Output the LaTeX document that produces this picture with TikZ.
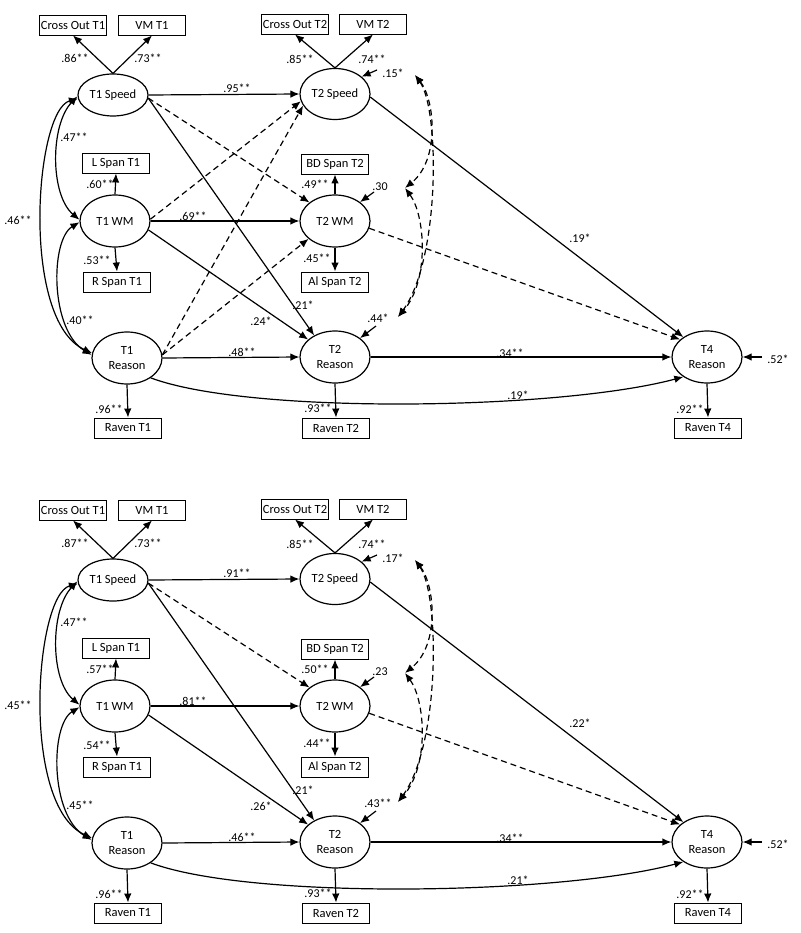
\documentclass[tikz,border=0pt]{standalone}
\usepackage{fontspec}
\setmainfont{Carlito}
\usetikzlibrary{arrows.meta,shapes.geometric}

\newcommand\panelcore{%
 % latent variables
 \node[lv, minimum height=42pt] (s1) at (113,95) {T1 Speed};
 \node[lv] (w1) at (115,221) {T1 WM};
 \node[lv] (r1) at (127,358) {T1\\Reason};
 \node[lv, minimum height=51pt] (s2) at (335,94) {T2 Speed};
 \node[lv] (w2) at (335,221) {T2 WM};
 \node[lv] (r2) at (335,357) {T2\\Reason};
 \node[lv] (r4) at (707,357) {T4\\Reason};
 % observed variables
 \node[ov] (co1) at (73,25) {Cross Out T1};
 \node[ov] (vm1) at (152,25) {VM T1};
 \node[ov] (co2) at (295,24) {Cross Out T2};
 \node[ov] (vm2) at (373,24) {VM T2};
 \node[ov] (ls1) at (116,163) {L Span T1};
 \node[ov] (rs1) at (117,282) {R Span T1};
 \node[ov] (bd2) at (335,164) {BD Span T2};
 \node[ov] (al2) at (335,282) {Al Span T2};
 \node[ov] (rv1) at (128,428) {Raven T1};
 \node[ov] (rv2) at (336,428) {Raven T2};
 \node[ov] (rv4) at (708,428) {Raven T4};
 % loadings
 \draw[arr] (s1.north) -- (co1.south);
 \draw[arr] (s1.north) -- (vm1.south);
 \draw[arr] (s2.north) -- (co2.south);
 \draw[arr] (s2.north) -- (vm2.south);
 \draw[arr] (w1.north) -- (ls1.south);
 \draw[arr] (w1.south) -- (rs1.north);
 \draw[arr] (w2.north) -- (bd2.south);
 \draw[arr] (w2.south) -- (al2.north);
 \draw[arr] (r1.south) -- (rv1.north);
 \draw[arr] (r2.south) -- (rv2.north);
 \draw[arr] (r4.south) -- (rv4.north);
 % structural paths
 \draw[arr] (s1.0) -- (s2.180);
 \draw[darr] (s1.-5) -- (w2.144);
 \draw[arr] (s1.-5) -- (r2.134);
 \draw[arr] (w1.0) -- (w2.180);
 \draw[arr] (w1.-15) -- (r2.147);
 \draw[arr] (r1.0) -- (r2.180);
 \draw[arr] (r1.-40) .. controls (250,415) and (560,410) .. (r4.220);
 \draw[arr] (s2.-5) -- (r4.140);
 \draw[darr] (w2.-12) -- (r4.147);
 \draw[arr] (r2.0) -- (r4.180);
 % covariances among T1 factors
 \draw[cov] (s1.182) .. controls (50,125) and (50,195) .. (w1.178);
 \draw[cov] (w1.182) .. controls (50,240) and (50,330) .. (r1.175);
 \draw[cov] (s1.186) .. controls (35,110) and (20,320) .. (r1.172);
 % residuals
 \coordinate (e2s) at (377,70);
 \coordinate (e2w) at (374,192);
 \coordinate (e2r) at (376,326);
 \coordinate (e4r) at (762,357);
 \draw[arr] (e2s) -- (s2.33);
 \draw[arr] (e2w) -- (w2.37);
 \draw[arr] (e2r) -- (r2.37);
 \draw[arr] (e4r) -- (r4.0);
 % residual correlations
 \coordinate (ca) at (415,75);
 \coordinate (cb) at (405,188);
 \coordinate (cc) at (398,317);
 \draw[dcov] (ca) .. controls (435,100) and (440,160) .. (cb);
 \draw[dcov] (ca) .. controls (440,110) and (440,260) .. (cc);
 \draw[dcov] (cb) .. controls (425,215) and (430,280) .. (cc);
 % labels
 \node[lab] (lA) at (75,58) {\LabA};
 \node[lab] (lB) at (148,58) {\LabB};
 \node[lab] (lC) at (300,59) {\LabC};
 \node[lab] (lD) at (372,59) {\LabD};
 \node[lab] (lE) at (393,73) {\LabE};
 \node[lab] (lF) at (237,88) {\LabF};
 \node[lab] (lG) at (74,137) {\LabG};
 \node[lab] (lH) at (100,184) {\LabH};
 \node[lab] (lI) at (315,184) {\LabI};
 \node[lab] (lJ) at (380,187) {\LabJ};
 \node[lab] (lK) at (193,216) {\LabK};
 \node[lab] (lL) at (18,220) {\LabL};
 \node[lab] (lM) at (97,260) {\LabM};
 \node[lab] (lN) at (317,258) {\LabN};
 \node[lab] (lO) at (303,305) {\LabO};
 \node[lab] (lP) at (261,321) {\LabP};
 \node[lab] (lQ) at (80,320) {\LabQ};
 \node[lab] (lR) at (378,318) {\LabR};
 \node[lab] (lS) at (242,352) {\LabS};
 \node[lab] (lT) at (510,353) {\LabT};
 \node[lab] (lU) at (778,359) {\LabU};
 \node[lab] (lV) at (109,409) {\LabV};
 \node[lab] (lW) at (318,408) {\LabW};
 \node[lab] (lX) at (518,395) {\LabX};
 \node[lab] (lY) at (690,409) {\LabY};
 \node[lab] (lZ) at (580,238) {\LabZ};
}

\begin{document}
\begin{tikzpicture}[x=1pt,y=-1pt,
  lv/.style={draw, ellipse, line width=1.2pt, minimum width=70pt, minimum height=52pt,
    inner sep=0pt, font=\fontsize{12.5}{15}\selectfont, align=center},
  ov/.style={draw, rectangle, line width=0.9pt, minimum width=67pt, minimum height=20pt,
    inner sep=1pt, font=\fontsize{12.5}{15}\selectfont},
  lab/.style={font=\fontsize{12}{14}\selectfont, inner sep=0pt},
  arr/.style={line width=1.2pt, -{Latex[length=9pt,width=7.5pt]}},
  darr/.style={arr, dash pattern=on 6pt off 4pt},
  cov/.style={line width=1.2pt, {Latex[length=9pt,width=7.5pt]}-{Latex[length=9pt,width=7.5pt]}},
  dcov/.style={cov, dash pattern=on 6pt off 4pt},
]
\fill[white] (0,0) rectangle (800,933);
\useasboundingbox (0,0) rectangle (800,933);

% ---------- top panel ----------
\begin{scope}[name prefix=a-]
\def\LabA{.86**}\def\LabB{.73**}\def\LabC{.85**}\def\LabD{.74**}
\def\LabE{.15*}\def\LabF{.95**}\def\LabG{.47**}\def\LabH{.60**}
\def\LabI{.49**}\def\LabJ{.30}\def\LabK{.69**}\def\LabL{.46**}
\def\LabM{.53**}\def\LabN{.45**}\def\LabO{.21*}\def\LabP{.24*}
\def\LabQ{.40**}\def\LabR{.44*}\def\LabS{.48**}\def\LabT{.34**}
\def\LabU{.52*}\def\LabV{.96**}\def\LabW{.93**}\def\LabX{.19*}
\def\LabY{.92**}\def\LabZ{.19*}
\panelcore
\draw[darr] (w1.3) -- (s2.192);
\draw[darr] (r1.5) -- (s2.200);
\draw[darr] (r1.5) -- (w2.214);
\end{scope}

% ---------- bottom panel ----------
\begin{scope}[yshift=-485pt, name prefix=b-]
\def\LabA{.87**}\def\LabB{.73**}\def\LabC{.85**}\def\LabD{.74**}
\def\LabE{.17*}\def\LabF{.91**}\def\LabG{.47**}\def\LabH{.57**}
\def\LabI{.50**}\def\LabJ{.23}\def\LabK{.81**}\def\LabL{.45**}
\def\LabM{.54**}\def\LabN{.44**}\def\LabO{.21*}\def\LabP{.26*}
\def\LabQ{.45**}\def\LabR{.43**}\def\LabS{.46**}\def\LabT{.34**}
\def\LabU{.52*}\def\LabV{.96**}\def\LabW{.93**}\def\LabX{.21*}
\def\LabY{.92**}\def\LabZ{.22*}
\panelcore
\end{scope}
\end{tikzpicture}
\end{document}
